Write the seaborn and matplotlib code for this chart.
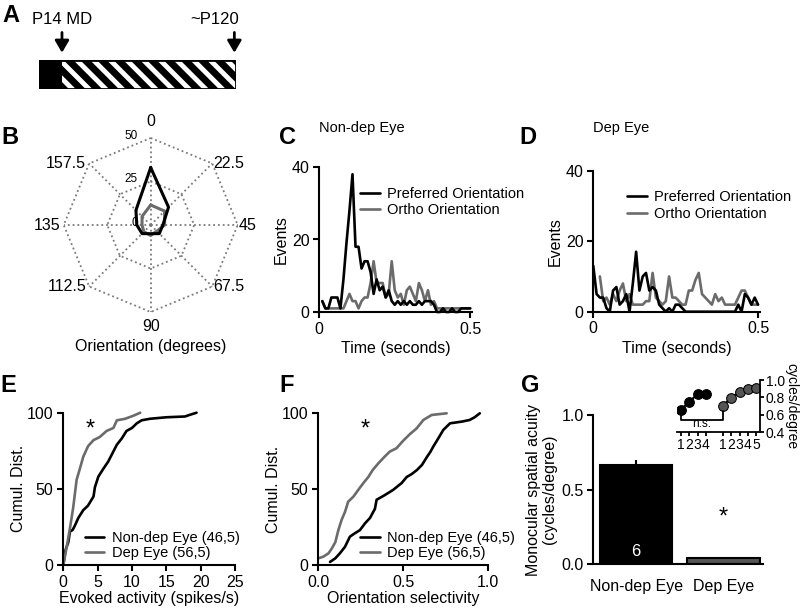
import numpy as np
import pandas as pd
import matplotlib
matplotlib.use("Agg")
import matplotlib.pyplot as plt
import seaborn as sns
from matplotlib.patches import Rectangle
from matplotlib.lines import Line2D

# ---------------- data ----------------
# A: experimental timeline (postnatal days)
timeline_start = 0
md_day = 14
end_day = 120
timeline_labels = ["P14 MD", "~P120"]

# B: orientation tuning polar plot
orientations = [0, 22.5, 45, 67.5, 90, 112.5, 135, 157.5]
tuning_black = [33, 14.5, 7, 7, 5, 7, 8, 12]
tuning_grey = [11.5, 11.3, 8, 5, 6, 5.5, 5, 7]
polar_rings = [25, 50]
polar_ring_ticks = [0, 25, 50]

# C / D: PSTHs (events per 10 ms bin)
psth_time = [0.00, 0.01, 0.02, 0.03, 0.04, 0.05, 0.06, 0.07, 0.08, 0.09,
             0.10, 0.11, 0.12, 0.13, 0.14, 0.15, 0.16, 0.17, 0.18, 0.19,
             0.20, 0.21, 0.22, 0.23, 0.24, 0.25, 0.26, 0.27, 0.28, 0.29,
             0.30, 0.31, 0.32, 0.33, 0.34, 0.35, 0.36, 0.37, 0.38, 0.39,
             0.40, 0.41, 0.42, 0.43, 0.44, 0.45, 0.46, 0.47, 0.48, 0.49, 0.50]
c_pref = [np.nan, 3, 1, 1, 4, 4, 4, 1, 9, 19, 28, 38, 18, 18, 12, 14, 14, 11, 5, 9,
          6, 7, 4, 6, 3, 2, 3, 2, 3, 2, 3, 2, 2, 3, 2, 3, 3, 3, 2, 0,
          0, 1, 0, 0, 1, 0, 0, 1, 1, 1, 1]
c_ortho = [np.nan, 3, 1, 1, 1, 1, 1, 1, 1, 3, 5, 3, 3, 1, 3, 4, 4, 8, 14, 8,
           8, 8, 4, 5, 14, 6, 4, 5, 2, 6, 7, 5, 3, 8, 6, 3, 6, 2, 3, 1,
           1, 1, 1, 1, 1, 1, 1, 1, 1, 1, 1]
d_pref = [13, 5, 4, 4, 1, 0, 6, 7, 2, 3, 5, 0, 8, 17, 6, 10, 11, 6, 7, 6,
          2, 1, 0, 1, 0, 2, 2, 1, 0, 0, 0, 0, 0, 0, 0, 0, 0, 0, 0, 0,
          0, 0, 0, 0, 2, 0, 5, 4, 2, 4, 2]
d_ortho = [np.nan, np.nan, 10, 3, 4, 2, 5, 3, 6, 8, 3, 5, 2, 2, 2, 2, 3, 3, 11, 4,
           3, 2, 3, 10, 4, 4, 3, 2, 2, 6, 6, 9, 11, 5, 4, 3, 2, 5, 3, 4,
           2, 2, 2, 2, 4, 6, 6, 4, 2, 2, 2]
psth_labels = ["Preferred Orientation", "Ortho Orientation"]

# E: cumulative distribution of evoked activity
e_nondep_x = [0, 0.34, 0.73, 0.97, 1.36, 1.7, 2.2, 2.9, 3.6, 4.4, 4.6, 5.1, 5.8, 6.55,
              7.0, 7.8, 8.5, 9.2, 10.0, 10.7, 11.4, 12.6, 15.0, 17.7, 18.7, 19.4]
e_nondep_y = [0, 10, 15, 22, 23, 26, 31, 36, 39, 45, 51, 58, 63, 68,
              72, 79, 83, 88, 90, 93, 95, 96, 97, 97.5, 99, 100]
e_dep_x = [0, 0.5, 1.0, 1.45, 1.94, 2.4, 2.9, 3.6, 4.4, 5.3, 6.3, 7.3, 7.8, 9.0, 10.2, 11.2]
e_dep_y = [0, 12, 25, 38, 56, 63, 71, 78, 82, 84, 88, 90, 95, 96, 98, 100]

# F: cumulative distribution of orientation selectivity
f_nondep_x = [0.069, 0.1, 0.127, 0.157, 0.186, 0.216, 0.245, 0.275, 0.304, 0.333, 0.343,
              0.39, 0.44, 0.49, 0.52, 0.55, 0.58, 0.61, 0.64, 0.66, 0.676, 0.706, 0.735,
              0.775, 0.843, 0.89, 0.92, 0.95]
f_nondep_y = [2, 4.4, 7.7, 12, 18.7, 21, 23, 27.5, 31, 37, 43, 46, 49.5, 54, 58, 60,
              62.6, 66, 71.4, 74.7, 78, 83.5, 89, 93.4, 94.5, 95.6, 97.4, 100]
f_dep_x = [0.0, 0.03, 0.06, 0.08, 0.1, 0.118, 0.137, 0.157, 0.176, 0.206, 0.235, 0.265,
           0.294, 0.32, 0.353, 0.39, 0.42, 0.46, 0.5, 0.54, 0.578, 0.618, 0.667, 0.755]
f_dep_y = [4.4, 5.5, 7.7, 11, 15, 23, 29.7, 35, 41.8, 45, 49.5, 54, 58, 62.6, 67, 71.4,
           74.7, 77, 82, 86.4, 90, 95.6, 98.9, 100]
cdf_labels = ["Non-dep Eye (46,5)", "Dep Eye (56,5)"]

# G: monocular spatial acuity
acuity_groups = ["Non-dep Eye", "Dep Eye"]
acuity_mean = [0.665, 0.04]
acuity_sem = [0.03, 0.005]
acuity_n = "6"
# G inset: acuity across sessions
inset_pos1 = [0, 1, 2, 3]
inset_val1 = [0.654, 0.75, 0.835, 0.835]
inset_err1 = [0.02, 0.02, 0.03, 0.02]
inset_pos2 = [5, 6, 7, 8, 9]
inset_val2 = [0.70, 0.796, 0.858, 0.896, 0.91]
inset_err2 = [0.04, 0.03, 0.03, 0.02, 0.02]
inset_ticklabels = ["1", "2", "3", "4", "1", "2", "3", "4", "5"]

# ---------------- style ----------------
sns.set_theme(style="ticks")
plt.rcParams["font.family"] = ["Liberation Sans", "DejaVu Sans"]
plt.rcParams.update({
    "axes.linewidth": 1.5, "axes.edgecolor": "black", "axes.labelcolor": "black",
    "text.color": "black", "xtick.color": "black", "ytick.color": "black",
    "xtick.major.width": 1.5, "ytick.major.width": 1.5,
    "xtick.major.size": 4.5, "ytick.major.size": 4.5,
    "xtick.major.pad": 2.5, "ytick.major.pad": 2.5,
    "xtick.labelsize": 11.5, "ytick.labelsize": 11.5, "axes.labelsize": 11.5,
    "legend.fontsize": 10.5,
    "hatch.color": "white", "hatch.linewidth": 3.5,
})
BLACK = "#000000"
GREY = "#6b6b6b"
LW = 1.9

fig = plt.figure(figsize=(8, 6.11), dpi=100)
W, H = 800.0, 611.0


def rect(l, t, r, b):
    return [l / W, 1 - b / H, (r - l) / W, (b - t) / H]


def letter(x, y, s):
    fig.text(x / W, 1 - y / H, s, fontsize=17, fontweight="bold", ha="center", va="center")


# ---------------- A ----------------
axA = fig.add_axes(rect(39, 60, 236, 89))
axA.set_xlim(timeline_start, end_day)
axA.set_ylim(0, 1)
axA.axis("off")
axA.add_patch(Rectangle((timeline_start, 0), md_day - timeline_start, 1, facecolor="black", edgecolor="none"))
axA.add_patch(Rectangle((md_day, 0), end_day - md_day, 1, facecolor="black", edgecolor="white",
                        hatch="\\\\", linewidth=0))
axA.add_patch(Rectangle((timeline_start, 0), end_day - timeline_start, 1, fill=False,
                        edgecolor="black", linewidth=2))
for day, lab, ha in zip([md_day, end_day], timeline_labels, ["center", "right"]):
    axA.annotate("", xy=(day - (1 if day == end_day else 0), 1.25),
                 xytext=(day - (1 if day == end_day else 0), 1.95),
                 xycoords="data", annotation_clip=False,
                 arrowprops=dict(arrowstyle="-|>,head_width=0.35,head_length=0.6",
                                 lw=2, color="black", shrinkA=0, shrinkB=0, mutation_scale=12))
    axA.text(day + (2 if ha == "right" else 0), 2.4, lab, ha=ha, va="center", fontsize=12)
letter(11, 16, "A")

# ---------------- B ----------------
axB = fig.add_axes(rect(63.7, 138, 237.7, 312), projection="polar")
axB.set_theta_zero_location("N")
axB.set_theta_direction(-1)
axB.set_ylim(0, 50)
axB.grid(False)
axB.set_xticks([])
axB.set_yticks([])
axB.spines["polar"].set_visible(False)
axB.set_facecolor("none")
theta = np.deg2rad(2 * np.array(orientations, dtype=float))
theta_c = np.append(theta, theta[0])
for r in polar_rings:
    axB.plot(theta_c, [r] * len(theta_c), ls=":", color="#7a7a7a", lw=1.3, clip_on=False)
for th in theta:
    axB.plot([th, th], [0, polar_rings[-1]], ls=":", color="#7a7a7a", lw=1.3, clip_on=False)
axB.plot(theta_c, np.append(tuning_grey, tuning_grey[0]), color=GREY, lw=2.2, clip_on=False)
axB.plot(theta_c, np.append(tuning_black, tuning_black[0]), color=BLACK, lw=2.2, clip_on=False)
for o, th in zip(orientations, theta):
    lab = f"{o:g}"
    if o == 0:
        axB.annotate(lab, (th, 50), xytext=(0, 9), textcoords="offset pixels", ha="center", va="bottom", fontsize=11.5)
    elif o == 90:
        axB.annotate(lab, (th, 50), xytext=(0, -7), textcoords="offset pixels", ha="center", va="top", fontsize=11.5)
    elif o < 90:
        axB.annotate(lab, (th, 50), xytext=(1, 0), textcoords="offset pixels", ha="left", va="center", fontsize=11.5)
    else:
        axB.annotate(lab, (th, 50), xytext=(-3, 0), textcoords="offset pixels", ha="right", va="center", fontsize=11.5)
for r in polar_ring_ticks:
    axB.annotate(str(r), (0, r), xytext=(-13, 2), textcoords="offset pixels", ha="right", va="center", fontsize=8.5)
axB.text(0.5, -0.2, "Orientation (degrees)", transform=axB.transAxes, ha="center", va="center", fontsize=11.5)
letter(10, 137, "B")


# ---------------- C / D ----------------
def psth(ax, pref, ortho):
    df = pd.DataFrame({"t": psth_time * 2, "events": list(pref) + list(ortho),
                       "cond": [psth_labels[0]] * len(pref) + [psth_labels[1]] * len(ortho)})
    sns.lineplot(data=df[df.cond == psth_labels[1]], x="t", y="events", color=GREY, lw=LW,
                 estimator=None, ax=ax)
    sns.lineplot(data=df[df.cond == psth_labels[0]], x="t", y="events", color=BLACK, lw=LW,
                 estimator=None, ax=ax)
    ax.set_ylim(0, 40)
    ax.set_yticks([0, 20, 40])
    ax.set_xticks([0, 0.5])
    ax.set_xticklabels(["0", "0.5"])
    ax.set_xlabel("Time (seconds)", labelpad=3)
    ax.set_ylabel("Events", labelpad=2)
    sns.despine(ax=ax)
    for line in ax.lines:
        line.set_clip_on(False)
    handles = [Line2D([], [], color=BLACK, lw=LW), Line2D([], [], color=GREY, lw=LW)]
    ax.legend(handles, psth_labels, loc="upper left", bbox_to_anchor=(0.27, 0.86), frameon=False,
              borderpad=0, borderaxespad=0, handlelength=1.35, handletextpad=0.5, labelspacing=0.15)
    return ax


axC = fig.add_axes(rect(319.3, 167, 471.7, 312))
psth(axC, c_pref, c_ortho)
axC.set_xlim(0, 0.505)
axC.text(0, (312 - 128) / 145, "Non-dep Eye", transform=axC.transAxes, ha="left", va="center", fontsize=10.5)
letter(288, 137, "C")

axD = fig.add_axes(rect(593.3, 170.7, 760, 311.7))
psth(axD, d_pref, d_ortho)
axD.set_xlim(0, 0.506)
axD.get_legend().set_bbox_to_anchor((0.205, 0.86))
axD.text(0, (311.7 - 128) / 141, "Dep Eye", transform=axD.transAxes, ha="left", va="center", fontsize=10.5)
letter(528, 137, "D")


# ---------------- E / F ----------------
def cdf(ax, nx, ny, dx, dy, xlabel, star_xy, leg_x):
    sns.lineplot(x=nx, y=ny, sort=False, estimator=None, color=BLACK, lw=LW, ax=ax)
    sns.lineplot(x=dx, y=dy, sort=False, estimator=None, color=GREY, lw=LW, ax=ax)
    for line in ax.lines:
        line.set_clip_on(False)
    ax.set_ylim(0, 100)
    ax.set_yticks([0, 50, 100])
    ax.set_xlabel(xlabel, labelpad=1)
    ax.set_ylabel("Cumul. Dist.", labelpad=1)
    sns.despine(ax=ax)
    ax.text(star_xy[0], star_xy[1], "*", ha="center", va="center", fontsize=17)
    handles = [Line2D([], [], color=BLACK, lw=LW), Line2D([], [], color=GREY, lw=LW)]
    ax.legend(handles, cdf_labels, loc="lower left", bbox_to_anchor=(leg_x, 0.03), frameon=False,
              borderpad=0, borderaxespad=0, handlelength=1.35, handletextpad=0.5, labelspacing=0.1)


axE = fig.add_axes(rect(63.3, 412.7, 235, 565))
cdf(axE, e_nondep_x, e_nondep_y, e_dep_x, e_dep_y, "Evoked activity (spikes/s)", (3.9, 89), 0.125)
axE.set_xlim(0, 25)
axE.set_xticks([0, 5, 10, 15, 20, 25])
letter(8, 385, "E")

axF = fig.add_axes(rect(318.3, 413.3, 488.3, 565))
cdf(axF, f_nondep_x, f_nondep_y, f_dep_x, f_dep_y, "Orientation selectivity", (0.275, 89), 0.245)
axF.set_xlim(0, 1)
axF.set_xticks([0, 0.5, 1.0])
axF.set_xticklabels(["0.0", "0.5", "1.0"])
letter(287, 385, "F")

# ---------------- G ----------------
axG = fig.add_axes(rect(593.3, 415, 762.7, 564))
gdf = pd.DataFrame({"group": acuity_groups, "acuity": acuity_mean})
sns.barplot(data=gdf, x="group", y="acuity", hue="group", palette=[BLACK, "#555555"],
            width=0.83, edgecolor="black", linewidth=1.5, legend=False, ax=axG)
axG.errorbar([0, 1], acuity_mean, yerr=[[0, 0], acuity_sem], fmt="none", ecolor="black",
             elinewidth=1.5, capsize=0)
axG.set_xlim(-0.49, 1.45)
axG.set_ylim(0, 1.0)
axG.set_yticks([0, 0.5, 1.0])
axG.set_yticklabels(["0.0", "0.5", "1.0"])
axG.tick_params(axis="x", length=0, pad=11)
axG.set_xlabel("")
axG.set_ylabel("Monocular spatial acuity\n(cycles/degree)", labelpad=3, linespacing=1.1)
sns.despine(ax=axG)
axG.text(0, 0.087, acuity_n, color="white", ha="center", va="center", fontsize=12)
axG.text(1, 0.31, "*", ha="center", va="center", fontsize=17)
letter(530, 385, "G")

# inset
axI = fig.add_axes(rect(676.7, 380, 760, 432))
sns.lineplot(x=inset_pos1, y=inset_val1, color="black", lw=1.5, marker="o", markersize=7,
             markerfacecolor=BLACK, markeredgecolor="black", estimator=None, ax=axI)
sns.lineplot(x=inset_pos2, y=inset_val2, color="black", lw=1.5, marker="o", markersize=7,
             markerfacecolor="#555555", markeredgecolor="black", estimator=None, ax=axI)
axI.errorbar(inset_pos1, inset_val1, yerr=inset_err1, fmt="none", ecolor="black", elinewidth=1.3, zorder=1)
axI.errorbar(inset_pos2, inset_val2, yerr=inset_err2, fmt="none", ecolor="black", elinewidth=1.3, zorder=1)
axI.plot([inset_pos1[0], inset_pos1[0], inset_pos2[0], inset_pos2[0]], [0.62, 0.54, 0.54, 0.64],
         color="black", lw=1.3)
axI.text((inset_pos1[0] + inset_pos2[0]) / 2, 0.49, "n.s.", ha="center", va="center", fontsize=8.5)
axI.set_xlim(-0.48, 9.44)
axI.set_ylim(0.4, 1.0)
axI.set_xticks(inset_pos1 + inset_pos2)
axI.set_xticklabels(inset_ticklabels, fontsize=10)
axI.set_yticks([0.4, 0.6, 0.8, 1.0])
axI.set_yticklabels(["0.4", "0.6", "0.8", "1.0"], fontsize=10)
axI.tick_params(axis="both", length=3, width=1.3, pad=1)
axI.yaxis.tick_right()
axI.yaxis.set_label_position("right")
axI.set_ylabel("cycles/degree", rotation=-90, fontsize=10, labelpad=10)
axI.set_xlabel("")
axI.spines["top"].set_visible(False)
axI.spines["left"].set_visible(False)
axI.spines["right"].set_linewidth(1.3)
axI.spines["bottom"].set_linewidth(1.3)
axI.set_facecolor("none")

fig.savefig("out.png", dpi=100)
